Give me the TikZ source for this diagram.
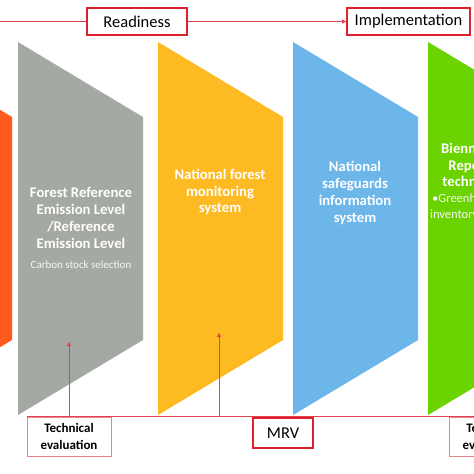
\documentclass[tikz,border=0pt]{standalone}
\usepackage{fontspec}
\setmainfont{Carlito}
\usetikzlibrary{arrows.meta}
\definecolor{cOrange}{HTML}{FF5A1E}
\definecolor{cGray}{HTML}{A5A9A3}
\definecolor{cYellow}{HTML}{FDBA22}
\definecolor{cBlue}{HTML}{6CB6EA}
\definecolor{cGreen}{HTML}{6AD300}
\definecolor{cRed}{HTML}{E0202C}
\definecolor{cLine}{HTML}{E3414F}
\definecolor{cPink}{HTML}{E6868C}
\begin{document}
\begin{tikzpicture}[x=1pt,y=-1pt,
 phase/.style={draw=cRed, line width=1.8pt, minimum height=27pt, inner xsep=0pt, font=\fontsize{16.5}{18}\selectfont},
 evalbox/.style={draw=cPink, line width=0.9pt, minimum width=84pt, minimum height=39pt, inner sep=1pt, align=center, font=\fontsize{13}{17}\selectfont\bfseries},
 flow/.style={draw=cLine, line width=0.8pt},
 tip/.style={-{Triangle[length=4pt,width=4pt]}},
 title/.style={text=white, align=center, font=\fontsize{14.7}{16.8}\selectfont\bfseries},
 sub/.style={text=white!94!gray, inner sep=0pt, font=\fontsize{11}{16}\selectfont},
 subg/.style={sub, font=\fontsize{12.5}{16}\selectfont}
]
\useasboundingbox (0,0) rectangle (474,474);
\clip (0,0) rectangle (474,474);
\fill[white] (0,0) rectangle (474,474);
\newcommand\stage[2]{\fill[#2] (#1,42) -- ++(125,75) -- ++(0,223) -- ++(-125,75) -- cycle;}
\stage{-113}{cOrange}
\stage{18}{cGray}
\stage{158}{cYellow}
\stage{293}{cBlue}
\stage{428}{cGreen}

% texts in stages
\node[title] (gt) at (81,218) {Forest Reference\\Emission Level\\/Reference\\Emission Level};
\node[sub] (gs) at (81,265) {Carbon stock selection};
\node[title] (yt) at (220,192) {National forest\\monitoring\\system};
\node[title] (bt) at (355,193) {National\\safeguards\\information\\system};
\node[title] (grt) at (490,165) {Biennial Update\\Report with a\\technical annex};
\node[subg, anchor=west] (gb1) at (432,199) {•Greenhouse gas};
\node[subg, anchor=west] (gb2) at (430,215) {inventory};

% phases
\node[phase, minimum width=100pt] (ready) at (137,21.5) {Readiness};
\node[phase, minimum width=123pt] (impl) at (408.5,21.5) {Implementation};
\coordinate (lstart) at (0,21.5);
\draw[flow] (lstart) -- (ready.west);
\draw[flow,tip] (ready.east) -- (impl.west);

% bottom
\node[evalbox] (te1) at (69,436.5) {Technical\\evaluation};
\node[evalbox] (te2) at (491,436.5) {Technical\\evaluation};
\draw[flow] (te1.north west) -- (te2.north east);
\node[phase, minimum width=60pt, minimum height=30pt, fill=white] (mrv) at (283,433) {MRV};
\coordinate (gtip) at (69,342);
\draw[flow,tip] (te1.north) -- (gtip);
\coordinate (ybase) at (219,417);
\coordinate (ytip) at (219,333);
\draw[flow,tip] (ybase) -- (ytip);
\end{tikzpicture}
\end{document}
